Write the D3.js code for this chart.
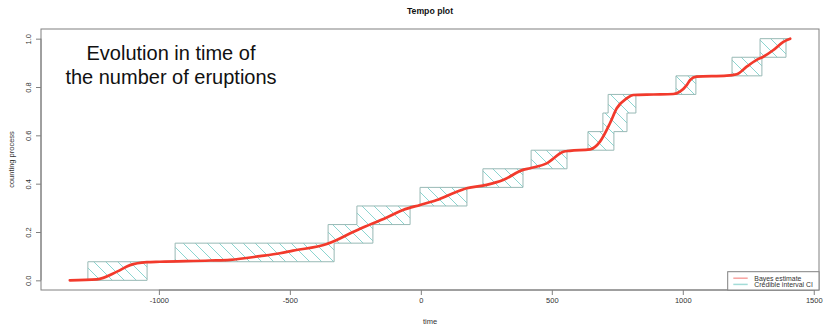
<!DOCTYPE html>
<html>
<head>
<meta charset="utf-8">
<script src="https://cdn.jsdelivr.net/npm/d3@7"></script>
<style>
  html, body { margin: 0; padding: 0; background: #fff; }
  svg { display: block; }
  text { font-family: "Liberation Sans", Arial, Helvetica, sans-serif; }
</style>
</head>
<body>
<div id="chart"></div>
<script>
// ---- data ----
const title = "Tempo plot";
const xLabel = "time";
const yLabel = "counting process";
const noteLines = ["Evolution in time of", "the number of eruptions"];
const legendLabels = ["Bayes estimate", "Credible interval CI"];

const xTicks = [-1000, -500, 0, 500, 1000, 1500];
const yTicks = [0.0, 0.2, 0.4, 0.6, 0.8, 1.0];
const yTickLabels = ["0.0", "0.2", "0.4", "0.6", "0.8", "1.0"];

const nEvents = 13;
const ciCount = [1, 2, 3, 4, 5, 6, 7, 8, 9, 10, 11, 12, 13];
// time at which the upper bound of the CI reaches each count
const ciSupTime = [-1271, -938, -354, -244, -3, 237, 421, 638, 695, 715, 974, 1188, 1295];
// time at which the lower bound of the CI reaches each count
const ciInfTime = [-1045, -331, -183, -41, 176, 390, 558, 737, 787, 821, 1050, 1302, 1394];
const timeStart = -1340;
const timeEnd = 1410;

// Bayes estimate of the counting process
const estTime = [-1340, -1237, -1160, -1110, -1046, -996, -805, -728, -614, -538, -488, -359, -321, -259, -232,
  -130, -68, -3, 61, 123, 175, 251, 314, 390, 417, 480, 544, 569, 646, 684, 722, 748, 786, 811, 888, 964,
  989, 1015, 1028, 1053, 1168, 1206, 1244, 1282, 1307, 1346, 1384, 1410];
const estValue = [0.000, 0.004, 0.036, 0.063, 0.075, 0.077, 0.082, 0.085, 0.100, 0.112, 0.123, 0.150, 0.167, 0.200, 0.213,
  0.260, 0.291, 0.312, 0.332, 0.360, 0.381, 0.395, 0.415, 0.457, 0.464, 0.484, 0.532, 0.536, 0.542, 0.574, 0.650, 0.712, 0.753, 0.767, 0.769, 0.771,
  0.781, 0.808, 0.829, 0.843, 0.847, 0.853, 0.884, 0.912, 0.925, 0.953, 0.987, 1.000];

// ---- layout ----
const W = 824, H = 325;
const plot = { left: 41, right: 819, top: 29, bottom: 290 };

const svg = d3.select("#chart").append("svg")
  .attr("width", W).attr("height", H);

svg.append("rect").attr("width", W).attr("height", H).attr("fill", "#fff");

const x = d3.scaleLinear().domain([-1450, 1520]).range([plot.left, plot.right]);
const y = d3.scaleLinear().domain([-0.04, 1.04]).range([plot.bottom, plot.top]);

// hatch pattern
const defs = svg.append("defs");
const pat = defs.append("pattern")
  .attr("id", "hatch")
  .attr("patternUnits", "userSpaceOnUse")
  .attr("width", 12).attr("height", 12);
pat.append("path")
  .attr("d", "M0,0L12,12M-6,6L6,18M6,-6L18,6")
  .attr("stroke", "#7fd0cb")
  .attr("stroke-width", 0.9)
  .attr("fill", "none");

// credible interval polygon from the two step functions
const upper = [[timeStart, 0]];
ciCount.forEach((c, i) => {
  const prev = (c - 1) / nEvents;
  upper.push([ciSupTime[i], prev]);
  upper.push([ciSupTime[i], c / nEvents]);
});
upper.push([timeEnd, 1]);
const lower = [[timeStart, 0]];
ciCount.forEach((c, i) => {
  const prev = (c - 1) / nEvents;
  lower.push([ciInfTime[i], prev]);
  lower.push([ciInfTime[i], c / nEvents]);
});
lower.push([timeEnd, 1]);
const poly = upper.concat(lower.slice().reverse());

const lineGen = d3.line().x(d => x(d[0])).y(d => y(d[1]));

svg.append("path")
  .attr("d", lineGen(poly) + "Z")
  .attr("fill", "url(#hatch)")
  .attr("stroke", "none");
svg.append("path")
  .attr("d", lineGen(upper))
  .attr("fill", "none").attr("stroke", "#98b9b5").attr("stroke-width", 1);
svg.append("path")
  .attr("d", lineGen(lower))
  .attr("fill", "none").attr("stroke", "#98b9b5").attr("stroke-width", 1);

// Bayes estimate
const est = estTime.map((t, i) => [t, estValue[i]]);
svg.append("path")
  .attr("d", d3.line().x(d => x(d[0])).y(d => y(d[1])).curve(d3.curveMonotoneX)(est))
  .attr("fill", "none")
  .attr("stroke", "#f23a2c")
  .attr("stroke-width", 2.7)
  .attr("stroke-linecap", "round")
  .attr("stroke-linejoin", "round");

// box
svg.append("rect")
  .attr("x", plot.left).attr("y", plot.top)
  .attr("width", plot.right - plot.left).attr("height", plot.bottom - plot.top)
  .attr("fill", "none").attr("stroke", "#808080").attr("stroke-width", 1);

// x axis
const xAxis = d3.axisBottom(x).tickValues(xTicks).tickSize(5).tickFormat(d3.format("d"));
const gx = svg.append("g").attr("transform", `translate(0,${plot.bottom})`).call(xAxis);
gx.select(".domain").attr("d", `M${x(xTicks[0])},0H${x(xTicks[xTicks.length - 1])}`).attr("stroke", "#808080");
gx.selectAll(".tick line").attr("stroke", "#808080");
gx.selectAll(".tick text")
  .attr("font-size", 7.5).attr("fill", "#333").attr("y", 12.5).attr("dy", 0)
  .text(d => d < 0 ? "-" + Math.abs(d) : String(d));

// y axis
const yAxis = d3.axisLeft(y).tickValues(yTicks).tickSize(5).tickFormat((d, i) => yTickLabels[i]);
const gy = svg.append("g").attr("transform", `translate(${plot.left},0)`).call(yAxis);
gy.select(".domain").attr("d", `M0,${y(yTicks[0])}V${y(yTicks[yTicks.length - 1])}`).attr("stroke", "#808080");
gy.selectAll(".tick line").attr("stroke", "#808080");
gy.selectAll(".tick text")
  .attr("font-size", 7.5).attr("fill", "#333")
  .attr("x", null).attr("dy", null).attr("text-anchor", "middle")
  .attr("transform", "translate(-10.3,0) rotate(-90)");

// labels
svg.append("text")
  .attr("x", (plot.left + plot.right) / 2).attr("y", 14)
  .attr("text-anchor", "middle").attr("font-size", 8.7).attr("font-weight", "bold").attr("fill", "#111")
  .text(title);
svg.append("text")
  .attr("x", (plot.left + plot.right) / 2).attr("y", 324.3)
  .attr("text-anchor", "middle").attr("font-size", 7.5).attr("fill", "#333")
  .text(xLabel);
svg.append("text")
  .attr("transform", `translate(13.7,${(plot.top + plot.bottom) / 2}) rotate(-90)`)
  .attr("text-anchor", "middle").attr("font-size", 7.5).attr("fill", "#333")
  .text(yLabel);

// annotation
noteLines.forEach((s, i) => {
  svg.append("text")
    .attr("x", 171).attr("y", 59.5 + i * 24.5)
    .attr("text-anchor", "middle").attr("font-size", 20).attr("fill", "#111")
    .text(s);
});

// legend
const lg = svg.append("g");
lg.append("rect")
  .attr("x", 727.7).attr("y", 271.7).attr("width", plot.right - 727.7).attr("height", plot.bottom - 271.7)
  .attr("fill", "#fff").attr("stroke", "#808080").attr("stroke-width", 1);
const legendColors = ["#f7a3a0", "#a3dcd8"];
legendLabels.forEach((s, i) => {
  const cy = 278.2 + i * 6.2;
  lg.append("line").attr("x1", 733.3).attr("x2", 747.7).attr("y1", cy).attr("y2", cy)
    .attr("stroke", legendColors[i]).attr("stroke-width", 1.5);
  lg.append("text").attr("x", 754.3).attr("y", cy + 2.4)
    .attr("font-size", 6.9).attr("fill", "#333").text(s);
});
</script>
</body>
</html>
